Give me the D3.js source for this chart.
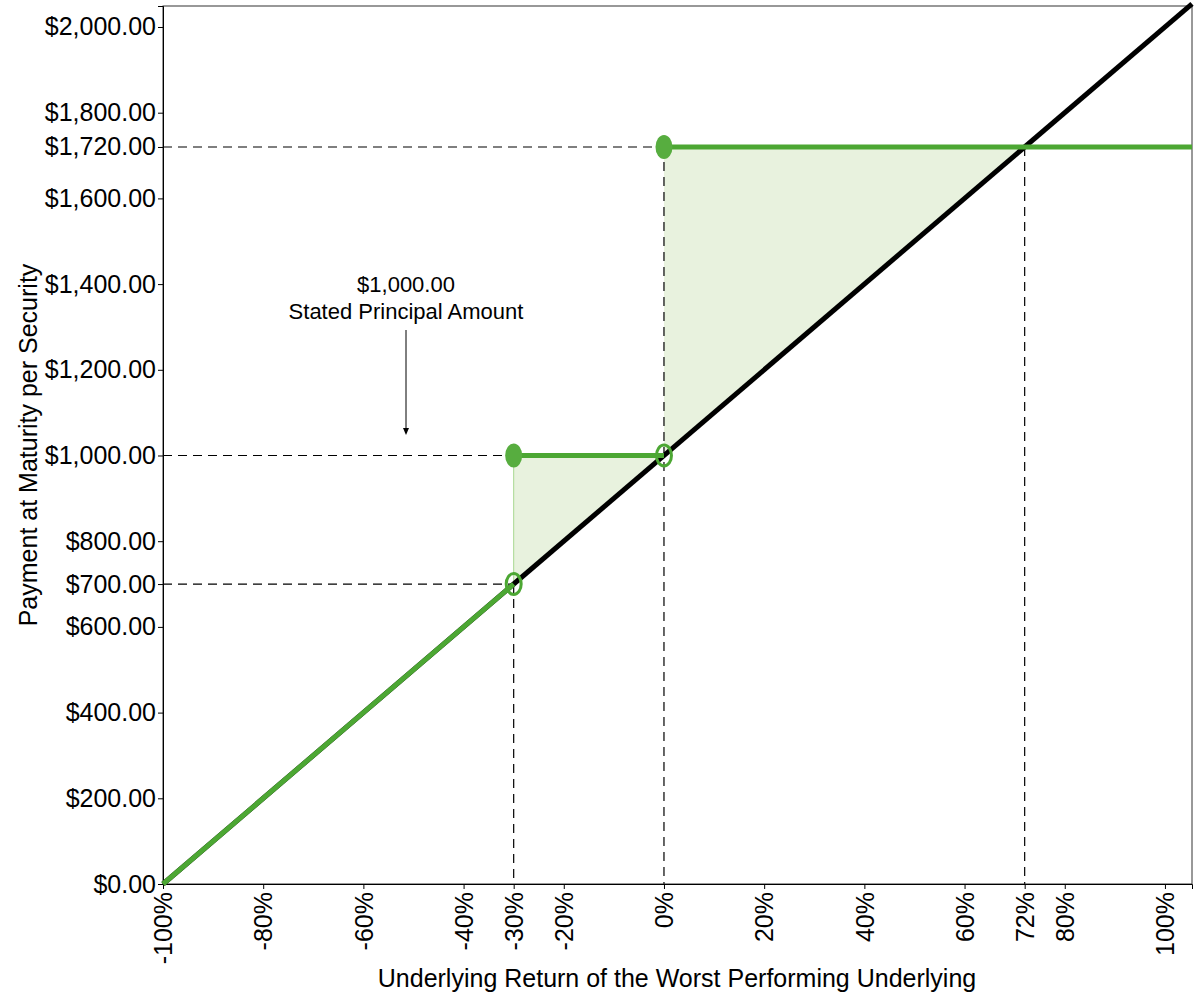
<!DOCTYPE html>
<html><head><meta charset="utf-8">
<script src="https://cdn.jsdelivr.net/npm/d3@7"></script>
<style>body{margin:0;background:#fff}text{font-family:Arial,"Liberation Sans",sans-serif}</style>
</head><body>
<svg id="c" width="1200" height="1000"></svg>
<script>
const xTicks = [-100,-80,-60,-40,-30,-20,0,20,40,60,72,80,100];
const yTicks = [0,200,400,600,700,800,1000,1200,1400,1600,1720,1800,2000];
const refReturns = [-100, 105.4];
const refPayments = [0, 2054];
const lossReturns = [-100, -30];
const lossPayments = [0, 700];
const midReturns = [-30, 0];
const midPayment = 1000;
const upReturns = [0, 105.4];
const upPayment = 1720;
const breakeven = 72;
const openPts = [[-30,700],[0,1000]];
const filledPts = [[-30,1000],[0,1720]];
const annotation = ["$1,000.00","Stated Principal Amount"];
const xTitle = "Underlying Return of the Worst Performing Underlying";
const yTitle = "Payment at Maturity per Security";

const svg = d3.select("#c");
const L=163,R=1192,T=6,B=884;
const x = d3.scaleLinear().domain([-100,105.4]).range([L,R]);
const y = d3.scaleLinear().domain([0,2049]).range([B,T]);
const green="#4ca733", fillGreen="#e8f2de", dotGreen="#57ad3f";

// shaded areas
const area1 = [[midReturns[0],lossPayments[1]],[midReturns[0],midPayment],[midReturns[1],midPayment],[0,1000]];
svg.append("path").attr("d", d3.line().x(d=>x(d[0])).y(d=>y(d[1]))(area1)+"Z").attr("fill",fillGreen);
const area2 = [[0,1000],[0,upPayment],[breakeven,upPayment]];
svg.append("path").attr("d", d3.line().x(d=>x(d[0])).y(d=>y(d[1]))(area2)+"Z").attr("fill",fillGreen);
svg.append("line").attr("x1",x(-30)).attr("x2",x(-30)).attr("y1",y(700)).attr("y2",y(1000)).attr("stroke","#a8d890").attr("stroke-width",1);

// dashed guides
const dash="9,6";
function dl(x1,y1,x2,y2){svg.append("line").attr("x1",x1).attr("y1",y1).attr("x2",x2).attr("y2",y2).attr("stroke","#000").attr("stroke-width",1.2).attr("stroke-dasharray",dash);}
dl(L,y(1000),x(-30),y(1000));
dl(L,y(700),x(-30),y(700));
dl(L,y(upPayment),x(0),y(upPayment));
dl(x(-30),y(700),x(-30),B);
dl(x(0),y(upPayment),x(0),B);
dl(x(breakeven),y(upPayment),x(breakeven),B);

// axes frame
svg.append("rect").attr("x",L).attr("y",T).attr("width",R-L).attr("height",B-T).attr("fill","none").attr("stroke","#333").attr("stroke-width",1);

const yAxis = svg.append("g").attr("transform",`translate(${L},0)`)
  .call(d3.axisLeft(y).tickValues(yTicks).tickSize(5).tickFormat(d=>"$"+d3.format(",.2f")(d)));
yAxis.attr("font-size",25).attr("font-family",null);
yAxis.select(".domain").attr("stroke","#000");
yAxis.selectAll("text").attr("font-size",25).attr("fill","#000").attr("x",-7);
const xAxis = svg.append("g").attr("transform",`translate(0,${B})`)
  .call(d3.axisBottom(x).tickValues(xTicks).tickSize(5).tickFormat(d=>d+"%"));
xAxis.attr("font-size",25).attr("font-family",null);
xAxis.select(".domain").attr("stroke","#000");
xAxis.selectAll("text").attr("font-size",25).attr("fill","#000")
  .attr("transform","rotate(-90)").attr("text-anchor","end").attr("x",-8).attr("y",0).attr("dy","0.35em");

// reference line
svg.append("path").attr("d",d3.line().x((d,i)=>x(refReturns[i])).y((d,i)=>y(refPayments[i]))(refReturns))
  .attr("stroke","#000").attr("stroke-width",5).attr("fill","none");

// payoff lines
svg.append("path").attr("d",d3.line().x((d,i)=>x(lossReturns[i])).y((d,i)=>y(lossPayments[i]))(lossReturns))
  .attr("stroke",green).attr("stroke-width",5).attr("fill","none");
svg.append("line").attr("x1",x(midReturns[0])).attr("x2",x(midReturns[1])).attr("y1",y(midPayment)).attr("y2",y(midPayment)).attr("stroke",green).attr("stroke-width",5);
svg.append("line").attr("x1",x(upReturns[0])).attr("x2",x(upReturns[1])).attr("y1",y(upPayment)).attr("y2",y(upPayment)).attr("stroke",green).attr("stroke-width",5);

svg.selectAll(".open").data(openPts).enter().append("ellipse")
  .attr("cx",d=>x(d[0])).attr("cy",d=>y(d[1])).attr("rx",7.5).attr("ry",10.5)
  .attr("fill","none").attr("stroke",green).attr("stroke-width",3);
svg.selectAll(".filled").data(filledPts).enter().append("ellipse")
  .attr("cx",d=>x(d[0])).attr("cy",d=>y(d[1])).attr("rx",8.5).attr("ry",12)
  .attr("fill",dotGreen);

// annotation
const ax = 406;
svg.append("text").attr("x",ax).attr("y",292).attr("text-anchor","middle").attr("font-size",22).text(annotation[0]);
svg.append("text").attr("x",ax).attr("y",319).attr("text-anchor","middle").attr("font-size",22).text(annotation[1]);
svg.append("line").attr("x1",ax).attr("x2",ax).attr("y1",330).attr("y2",430).attr("stroke","#000").attr("stroke-width",1);
svg.append("path").attr("d",`M${ax-3},428 L${ax+3},428 L${ax},435 Z`).attr("fill","#000");

// titles
svg.append("text").attr("x",677).attr("y",987).attr("text-anchor","middle").attr("font-size",25).text(xTitle);
svg.append("text").attr("transform","translate(37,445) rotate(-90)").attr("text-anchor","middle").attr("font-size",25).text(yTitle);
</script>
</body></html>
